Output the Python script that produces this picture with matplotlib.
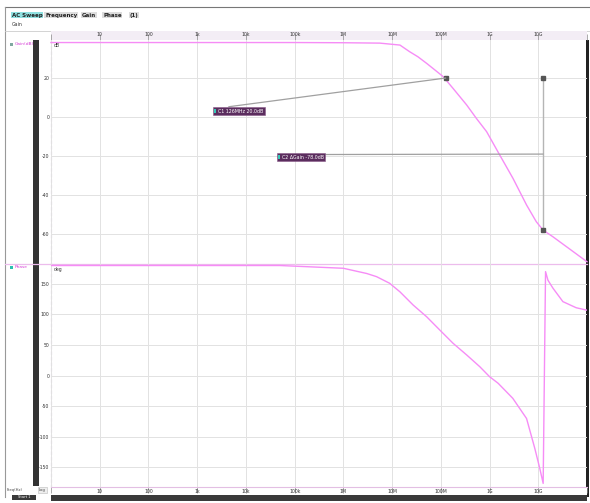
import matplotlib
matplotlib.use("Agg")
import matplotlib.pyplot as plt
from matplotlib.patches import Rectangle

# ---- data -------------------------------------------------------------
gain_freq_hz = [1, 1e3, 1e5, 1e6, 5.6e6, 1.45e7, 2.29e7, 3.39e7, 5.13e7, 7.59e7,
                1.12e8, 1.78e8, 3.39e8, 5.37e8, 8.71e8, 1.62e9, 3.02e9, 5.75e9,
                9.12e9, 1.26e10, 2.0e10, 3.8e10, 1e11]
gain_db = [38.2, 38.2, 38.2, 38.1, 37.9, 36.9, 33.5, 30.9, 27.5, 24.1,
           20.7, 14.7, 6.2, -0.7, -7.5, -19.5, -31.4, -45.1,
           -53.7, -58.0, -61.4, -66.5, -74.2]

phase_freq_hz = [1, 5e4, 1e6, 3.0e6, 4.8e6, 8.9e6, 1.45e7, 2.7e7, 5.1e7, 9.5e7,
                 1.78e8, 3.4e8, 6.3e8, 1e9, 1.5e9, 3.0e9, 5.75e9, 8.5e9,
                 1.07e10, 1.26e10, 1.41e10, 1.58e10, 2.0e10, 3.2e10, 6.0e10, 1e11]
phase_deg = [180, 180, 175.5, 167, 161.8, 151, 137, 115.5, 96.4, 74.7,
             53, 33.8, 14.7, -1.6, -12.4, -37, -70, -119,
             -151, -176, 170, 156, 143, 121, 111, 107]

decade_labels = ["1", "10", "100", "1k", "10k", "100k", "1M", "10M",
                 "100M", "1G", "10G"]
gain_ticks = [20, 0, -20, -40, -60]
phase_ticks = [150, 100, 50, 0, -50, -100, -150]

title_words = ["AC Sweep", "Frequency", "Gain", "Phase", "(1)"]

cursor1_freq, cursor1_gain = 1.26e8, 20.0
cursor2_freq, cursor2_top, cursor2_bottom = 1.26e10, 20.0, -58.0

# ---- figure geometry (pixel based) -----------------------------------
W, H = 590, 503
fig = plt.figure(figsize=(W / 100, H / 100), dpi=100, facecolor="white")


def px_box(x0, y0, x1, y1):
    return [x0 / W, 1 - y1 / H, (x1 - x0) / W, (y1 - y0) / H]


CURVE = "#f68cf6"
GRID = "#e2e2e2"
LABEL = "#333333"
MAGENTA = "#d640d6"
FS = 3.3

# background canvas for the window chrome
bg = fig.add_axes([0, 0, 1, 1], zorder=-5)
bg.set_xlim(0, W)
bg.set_ylim(H, 0)
bg.axis("off")

# window frame
bg.plot([5, 590], [7, 7], color="#777777", lw=0.8)
bg.plot([5, 5], [7, 497], color="#999999", lw=0.8)
bg.plot([5, 590], [31, 31], color="#cccccc", lw=0.6)

# title line
title_x = [12, 45, 82, 103, 130]
for i, (w, x) in enumerate(zip(title_words, title_x)):
    bg.text(x, 15, w, fontsize=4.0, fontweight="bold", color="#222222",
            va="center", ha="left",
            bbox=dict(boxstyle="square,pad=0.12",
                      fc="#8fe0e0" if i == 0 else "#dddddd", ec="none"))
bg.text(12, 24, "Gain", fontsize=3.4, color="#333333", va="center", ha="left")

# dark level bar on the left and the right edge bar
bg.add_patch(Rectangle((33, 40), 6, 446, fc="#333333", ec="none"))
bg.add_patch(Rectangle((586, 40), 3, 457, fc="#222222", ec="none"))
# bottom scroll bar
bg.add_patch(Rectangle((51, 495), 536, 6, fc="#3a3a3a", ec="none"))
bg.add_patch(Rectangle((12, 494.5), 24, 5.5, fc="#3a3a3a", ec="none"))
bg.text(24, 497.2, "Start 1", fontsize=2.6, color="white", ha="center", va="center")
bg.text(7, 490, "Freq(Hz)", fontsize=2.7, color="#444444", ha="left", va="center")
bg.text(39, 490, "Log", fontsize=2.7, color="#444444", ha="left", va="center",
        bbox=dict(boxstyle="square,pad=0.2", fc="#eeeeee", ec="#bbbbbb", lw=0.4))

# left plot edge (dashed) and panel separator
bg.plot([51, 51], [40, 487], color="#c7a6d6", lw=0.8, ls=(0, (3, 2)))
bg.plot([5, 587], [263.5, 263.5], color="#ecbcec", lw=0.9)

# trace legend entries
bg.add_patch(Rectangle((10, 42.5), 3, 3, fc="#7fa8a0", ec="none"))
bg.text(15, 44, "Gain(dB)", fontsize=3.2, color=MAGENTA, ha="left", va="center")
bg.add_patch(Rectangle((10, 265.5), 3, 3, fc="#2bc0b0", ec="none"))
bg.text(15, 267, "Phase", fontsize=3.2, color=MAGENTA, ha="left", va="center")

# ---- frequency scale strips ------------------------------------------
decades = [10.0 ** k for k in range(12)]


def freq_strip(box, face, label_y, ticks_on_top):
    ax = fig.add_axes(px_box(*box))
    ax.set_xscale("log")
    ax.set_xlim(1, 1e11)
    ax.set_ylim(0, 1)
    ax.set_facecolor(face)
    for s in ax.spines.values():
        s.set_visible(False)
    ax.set_yticks([])
    ax.set_xticks(decades)
    ax.set_xticklabels([])
    ax.tick_params(axis="x", which="major", length=4, width=0.5, color="#888888",
                   direction="in", top=ticks_on_top, bottom=not ticks_on_top)
    ax.tick_params(axis="x", which="minor", length=1.3, width=0.4, color="#999999",
                   direction="in", top=ticks_on_top, bottom=not ticks_on_top)
    for d, lab in zip(decades[1:], decade_labels[1:]):
        ax.text(d, label_y, lab, fontsize=FS, color=LABEL, ha="center",
                va="center", transform=ax.get_xaxis_transform())
    return ax


top_strip = freq_strip((51, 31, 587, 40), "#f3edf5", 0.6, False)
bot_strip = freq_strip((51, 487, 587, 495), "white", 0.45, True)
bot_strip.spines["top"].set_visible(True)
bot_strip.spines["top"].set_color("#e3bfe3")
bot_strip.spines["top"].set_linewidth(0.8)


# ---- gain and phase panels -------------------------------------------
def panel(box, ylim, ticks):
    ax = fig.add_axes(px_box(*box))
    ax.set_facecolor("none")
    ax.set_xscale("log")
    ax.set_xlim(1, 1e11)
    ax.set_ylim(*ylim)
    for s in ax.spines.values():
        s.set_visible(False)
    ax.set_xticks(decades)
    ax.set_xticks([], minor=True)
    ax.set_xticklabels([])
    ax.set_yticks(ticks)
    ax.set_yticklabels([str(t) for t in ticks])
    ax.tick_params(axis="x", length=0)
    ax.tick_params(axis="y", length=0, pad=1.2, labelsize=FS, labelcolor=LABEL)
    ax.grid(True, color=GRID, lw=0.7)
    ax.set_axisbelow(True)
    return ax


ax_gain = panel((51, 40, 587, 263.5), (-75.1, 39.5), gain_ticks)
ax_phase = panel((51, 263.5, 587, 487), (-181.9, 183.3), phase_ticks)

ax_gain.plot(gain_freq_hz, gain_db, color=CURVE, lw=1.0, clip_on=False, zorder=3)
ax_phase.plot(phase_freq_hz, phase_deg, color=CURVE, lw=1.0, zorder=3)

ax_gain.text(0.005, 0.985, "dB", transform=ax_gain.transAxes, fontsize=FS,
             color=LABEL, ha="left", va="top")
ax_phase.text(0.005, 0.985, "deg", transform=ax_phase.transAxes, fontsize=FS,
              color=LABEL, ha="left", va="top")

# ---- cursors ----------------------------------------------------------
BOX_FC = "#5b2d5e"
LEAD = "#a0a0a0"

ax_gain.plot([cursor1_freq], [cursor1_gain], marker="s", ms=2.2, color="#555555",
             zorder=5)
ax_gain.plot([cursor2_freq, cursor2_freq], [cursor2_top, cursor2_bottom],
             color="#b5b5b5", lw=1.0, zorder=4)
ax_gain.plot([cursor2_freq, cursor2_freq], [cursor2_top, cursor2_bottom],
             ls="none", marker="s", ms=2.2, color="#555555", zorder=5)

cursor2_mid = (cursor2_top + cursor2_bottom) / 2
# readout boxes: anchor (data), box top-left corner (pixels from top-left)
box_specs = [
    ((cursor1_freq, cursor1_gain), (213, 107),
     f"C1 126MHz {cursor1_gain:.1f}dB"),
    ((cursor2_freq, cursor2_mid), (277, 153),
     f"C2 \u0394Gain {cursor2_bottom - cursor2_top:.1f}dB"),
]
for xy, (bx, by), label in box_specs:
    ax_gain.annotate("  " + label, xy=xy, xytext=(bx + 1.7, H - by - 1.6),
                     textcoords="figure pixels",
                     fontsize=3.4, color="white", ha="left", va="top",
                     bbox=dict(boxstyle="square,pad=0.35", fc=BOX_FC,
                               ec="#8a5a8a", lw=0.4),
                     arrowprops=dict(arrowstyle="-", color=LEAD, lw=0.9,
                                     relpos=(0, 1), shrinkA=0, shrinkB=0),
                     zorder=6)
# teal tags at the left end of each readout box
tag_ax = fig.add_axes([0, 0, 1, 1], zorder=10)
tag_ax.set_xlim(0, W)
tag_ax.set_ylim(H, 0)
tag_ax.axis("off")
for _, (bx, by), _ in box_specs:
    tag_ax.add_patch(Rectangle((bx + 1.3, by + 1.6), 2.0, 4.8, fc="#35c8b8", ec="none"))

fig.savefig("out.png", dpi=100, facecolor="white")
